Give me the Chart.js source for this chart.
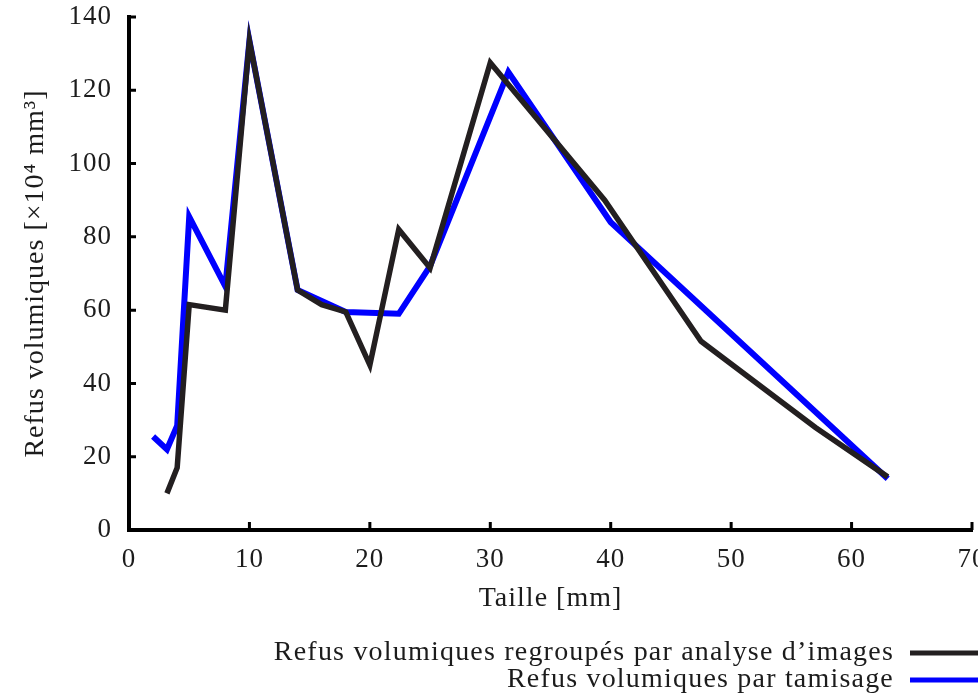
<!DOCTYPE html>
<html>
<head>
<meta charset="utf-8">
<script src="https://cdn.jsdelivr.net/npm/chart.js@4.4.1/dist/chart.umd.min.js"></script>
<style>
  html, body { margin: 0; padding: 0; overflow: hidden; background: #ffffff; }
  #wrap { position: relative; width: 1000px; height: 695px; }
</style>
</head>
<body>
<div id="wrap"><canvas id="chart" width="1000" height="695"></canvas></div>
<script>
// Volume retained per size class: image analysis (grouped) vs. sieving
const imageSizes   = [3.15, 4, 5, 8, 10, 14, 16, 18, 20, 22.4, 25, 30, 39.5, 47.5, 57, 63];
const imageVolumes = [10, 17, 61.5, 60, 133.5, 65.5, 61.5, 59.5, 45, 82, 71.5, 127.5, 90, 51.5, 28, 14.5];

const sieveSizes   = [2, 3.15, 4, 5, 8, 10, 14, 16, 18, 22.4, 25, 31.5, 40, 63];
const sieveVolumes = [25.5, 22, 28.5, 85.5, 66.5, 133.5, 65.5, 62.5, 59.5, 59, 72, 125, 84, 14];

const seriesLabels = [
  "Refus volumiques regroupés par analyse d’images",
  "Refus volumiques par tamisage"
];
const xTickValues = [0, 10, 20, 30, 40, 50, 60, 70];
const yTickValues = [0, 20, 40, 60, 80, 100, 120, 140];
const xTitle = "Taille [mm]";
const yTitle = "Refus volumiques [×10⁴ mm³]";

const FONT = "'Liberation Serif', 'DejaVu Serif', serif";
const TEXT = '#1c1c1c';

const toPoints = (xs, ys) => xs.map((x, i) => ({ x: x, y: ys[i] }));

// Slightly open letter spacing for all chart text
const textSpacing = {
  id: 'textSpacing',
  beforeDraw(chart) { chart.ctx.letterSpacing = '1px'; }
};

// Short tick marks pointing into the plot area
const inwardTicks = {
  id: 'inwardTicks',
  beforeDatasetsDraw(chart) {
    const { ctx, chartArea: a, scales: { x, y } } = chart;
    ctx.save();
    ctx.strokeStyle = '#000';
    ctx.lineWidth = 3;
    ctx.beginPath();
    x.ticks.forEach(t => {
      const px = x.getPixelForValue(t.value);
      ctx.moveTo(px, a.bottom);
      ctx.lineTo(px, a.bottom - 8);
    });
    y.ticks.forEach(t => {
      const py = y.getPixelForValue(t.value);
      ctx.moveTo(a.left, py);
      ctx.lineTo(a.left + 7, py);
    });
    ctx.stroke();
    ctx.restore();
  }
};

// Legend rows: label right-aligned, line sample after it
const legendRows = {
  id: 'legendRows',
  afterDraw(chart) {
    const ctx = chart.ctx;
    ctx.save();
    ctx.letterSpacing = '1.2px';
    ctx.font = '28px ' + FONT;
    ctx.textAlign = 'right';
    ctx.textBaseline = 'middle';
    chart.data.datasets.forEach((ds, i) => {
      const yy = 653 + i * 27;
      ctx.fillStyle = TEXT;
      ctx.fillText(ds.label, 894, yy);
      ctx.strokeStyle = ds.borderColor;
      ctx.lineWidth = 5;
      ctx.beginPath();
      ctx.moveTo(910, yy);
      ctx.lineTo(1000, yy);
      ctx.stroke();
    });
    ctx.restore();
  }
};

new Chart(document.getElementById('chart'), {
  type: 'line',
  data: {
    datasets: [
      {
        label: seriesLabels[0],
        data: toPoints(imageSizes, imageVolumes),
        borderColor: '#231f20',
        borderWidth: 5.5,
        pointRadius: 0,
        tension: 0,
        fill: false
      },
      {
        label: seriesLabels[1],
        data: toPoints(sieveSizes, sieveVolumes),
        borderColor: '#0000ff',
        borderWidth: 6,
        pointRadius: 0,
        tension: 0,
        fill: false
      }
    ]
  },
  options: {
    responsive: false,
    animation: false,
    layout: { padding: { top: 17, right: 28, bottom: 80, left: 0 } },
    plugins: { legend: { display: false }, tooltip: { enabled: false } },
    scales: {
      x: {
        type: 'linear',
        min: 0,
        max: 70,
        afterBuildTicks: s => { s.ticks = xTickValues.map(v => ({ value: v })); },
        afterFit: s => { s.height = 85; s.paddingLeft = 0; s.paddingRight = 0; },
        grid: { display: false, drawTicks: false },
        border: { display: true, color: '#000', width: 4 },
        ticks: { padding: 14, color: TEXT, font: { family: FONT, size: 27 }, maxRotation: 0 },
        title: { display: true, text: xTitle, color: TEXT, font: { family: FONT, size: 28 }, padding: { top: 0, bottom: 0 } }
      },
      y: {
        type: 'linear',
        min: 0,
        max: 140,
        afterBuildTicks: s => { s.ticks = yTickValues.map(v => ({ value: v })); },
        afterFit: s => { s.width = 129; s.paddingTop = 0; s.paddingBottom = 0; },
        grid: { display: false, drawTicks: false },
        border: { display: true, color: '#000', width: 4 },
        ticks: { padding: 17, color: TEXT, font: { family: FONT, size: 27 } },
        title: { display: true, text: yTitle, color: TEXT, font: { family: FONT, size: 28 }, padding: { top: 19, bottom: 0 } }
      }
    }
  },
  plugins: [textSpacing, inwardTicks, legendRows]
});
</script>
</body>
</html>
